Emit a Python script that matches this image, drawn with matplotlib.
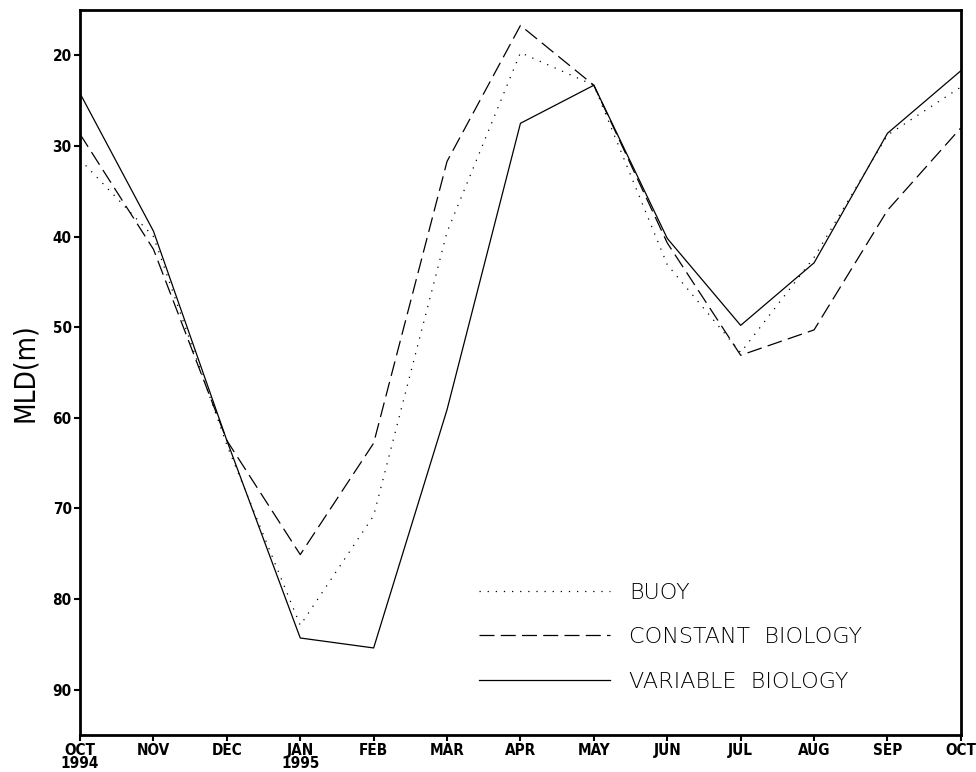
# MLD: buoy vs. constant / variable biology, Oct 1994 - Oct 1995
import numpy as np
import matplotlib.pyplot as plt

months = ["OCT\n1994", "NOV", "DEC", "JAN\n1995", "FEB", "MAR", "APR",
          "MAY", "JUN", "JUL", "AUG", "SEP", "OCT"]
buoy = [31.5, 40.0, 63.0, 82.9, 70.8, 39.5, 19.7, 23.3, 43.1, 52.8, 42.3, 28.8, 23.5]
constant_bio = [28.7, 41.4, 62.5, 75.1, 62.8, 31.7, 16.7, 23.3, 40.7, 53.1, 50.3, 37.1, 28.0]
variable_bio = [24.2, 39.4, 62.5, 84.3, 85.4, 59.1, 27.5, 23.3, 40.2, 49.8, 42.9, 28.6, 21.7]
yticks = [20, 30, 40, 50, 60, 70, 80, 90]

fig = plt.figure(figsize=(9.76, 7.72), dpi=100)
ax = fig.add_axes([0.082, 0.048, 0.9025, 0.939])

x = np.arange(len(months))
lw = 0.9
ax.plot(x, buoy, color="black", lw=lw, linestyle=(0, (1, 5.5)), label="BUOY")
ax.plot(x, constant_bio, color="black", lw=lw, linestyle=(0, (12, 5)), label="CONSTANT  BIOLOGY")
ax.plot(x, variable_bio, color="black", lw=lw, linestyle="-", label="VARIABLE  BIOLOGY")

ax.set_xlim(0, len(months) - 1)
ax.set_ylim(95, 15)
ax.set_xticks(x)
ax.set_xticklabels(months, fontsize=11, fontweight="bold", fontstretch="condensed",
                   family="DejaVu Sans", linespacing=0.85)
ax.set_yticks(yticks)
ax.set_yticklabels([str(v) for v in yticks], fontsize=11, fontweight="bold",
                   fontstretch="condensed", family="DejaVu Sans")
ax.tick_params(direction="out", length=4, width=1.5, pad=2)
for s in ax.spines.values():
    s.set_linewidth(2)

ax.set_ylabel("MLD(m)", fontsize=20, family="DejaVu Sans", fontstretch="condensed",
              labelpad=10)

leg = ax.legend(loc="upper left", bbox_to_anchor=(0.43, 0.2375), frameon=False,
                handlelength=5.9, handletextpad=0.85, labelspacing=1.1,
                prop={"size": 16, "family": "DejaVu Sans", "weight": "light"})

plt.savefig("out.png", dpi=100)
